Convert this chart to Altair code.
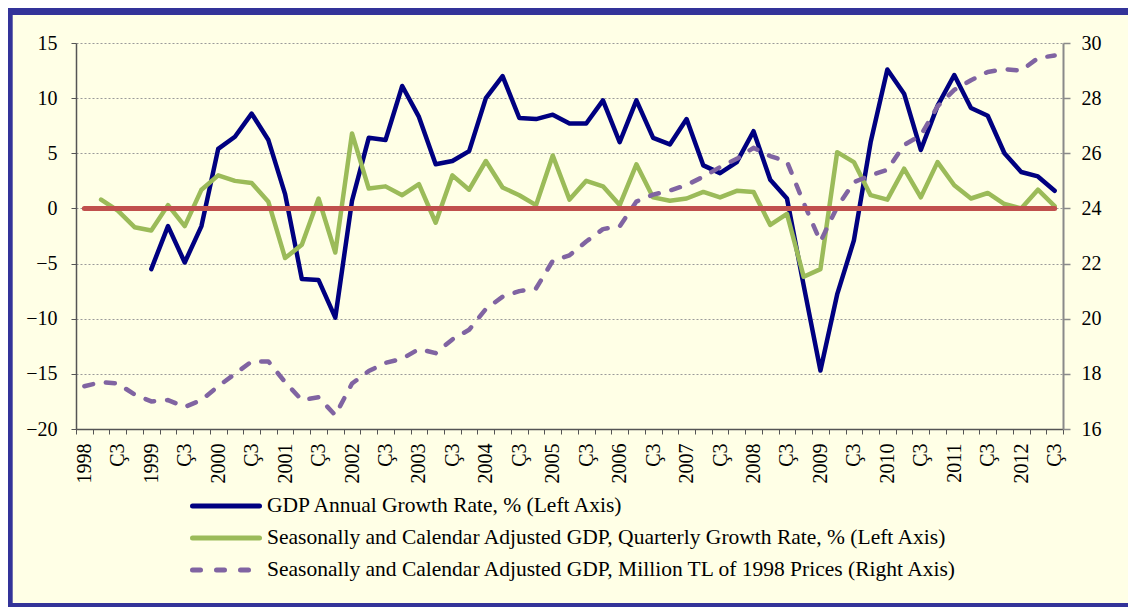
import altair as alt
import pandas as pd

# ---------------- data ----------------
years = list(range(1998, 2013))
quarters = [f"{y}-{q}" for y in years for q in (1, 2, 3, 4)][:59]  # 1998Q1 .. 2012Q3

gdp_annual_growth = [None, None, None, None,
    -5.5, -1.6, -4.9, -1.6, 5.4, 6.5, 8.6, 6.2, 1.3, -6.4, -6.5, -9.9,
    0.7, 6.4, 6.2, 11.1, 8.3, 4.0, 4.3, 5.2, 10.0, 12.0, 8.2, 8.1,
    8.5, 7.7, 7.7, 9.8, 6.0, 9.8, 6.4, 5.8, 8.1, 3.9, 3.2, 4.2,
    7.0, 2.6, 0.9, -7.0, -14.7, -7.8, -2.9, 6.0, 12.6, 10.4, 5.3, 9.3,
    12.1, 9.1, 8.4, 5.0, 3.3, 2.9, 1.6]

sa_quarterly_growth = [None,
    0.8, -0.2, -1.7, -2.0, 0.3, -1.6, 1.7, 3.0, 2.5, 2.3, 0.6, -4.5,
    -3.3, 0.9, -4.0, 6.8, 1.8, 2.0, 1.2, 2.2, -1.3, 3.0, 1.7, 4.3,
    1.9, 1.2, 0.3, 4.8, 0.8, 2.5, 2.0, 0.3, 4.0, 1.0, 0.7, 0.9,
    1.5, 1.0, 1.6, 1.5, -1.5, -0.5, -6.2, -5.5, 5.1, 4.2, 1.2, 0.8,
    3.6, 1.0, 4.2, 2.1, 0.9, 1.4, 0.4, 0.0, 1.7, 0.2]

sa_level = [
    17.55, 17.7, 17.65, 17.25, 17.0, 17.05, 16.8, 17.05, 17.55, 18.0,
    18.45, 18.45, 17.7, 17.05, 17.15, 16.5, 17.65, 18.1, 18.4, 18.55,
    18.9, 18.75, 19.25, 19.6, 20.35, 20.8, 21.0, 21.1, 22.1, 22.3,
    22.8, 23.25, 23.35, 24.25, 24.5, 24.65, 24.85, 25.15, 25.5, 25.8,
    26.2, 25.9, 25.7, 24.2, 22.8, 24.05, 24.95, 25.2, 25.4, 26.3,
    26.65, 27.7, 28.3, 28.65, 28.95, 29.05, 29.0, 29.45, 29.55]

zero_line = [0] * len(quarters)

series_names = [
    "GDP Annual Growth Rate, % (Left Axis)",
    "Seasonally and Calendar Adjusted GDP, Quarterly Growth Rate, % (Left Axis)",
    "Seasonally and Calendar Adjusted GDP, Million TL of 1998 Prices (Right Axis)",
]

left_ticks = [-20, -15, -10, -5, 0, 5, 10, 15]
right_ticks = [16, 18, 20, 22, 24, 26, 28, 30]

# ---------------- style ----------------
FONT = "Liberation Serif, Times New Roman, Tinos, DejaVu Serif, serif"
BG = "#FFFFE6"
FRAME = "#333399"
BLUE = "#000080"
GREEN = "#9BBB59"
PURPLE = "#8064A2"
RED = "#C0504D"

W, H = 987, 386
PAD = {"left": 68, "top": 35, "right": 65, "bottom": 178}
CW = PAD["left"] + W + PAD["right"]
CH = PAD["top"] + H + PAD["bottom"]


def series_df(values):
    return pd.DataFrame({"q": quarters, "v": values}).dropna()


label_expr = ("split(datum.value,'-')[1] == '1' ? split(datum.value,'-')[0] : "
              "(split(datum.value,'-')[1] == '3' ? 'Ç3' : '')")

x_axis = alt.Axis(title=None, labelAngle=-90, labelAlign="right", labelBaseline="middle",
                  labelExpr=label_expr, tickBand="extent", labelOverlap=False,
                  tickSize=5, labelPadding=9, labelFont=FONT, labelFontSize=20,
                  labelColor="black", domainColor="#555555", tickColor="#555555",
                  domainWidth=1.5, tickWidth=1, grid=False)
x_scale = alt.Scale(type="band", domain=quarters, paddingInner=0, paddingOuter=0)


def xenc():
    return alt.X("q:N", sort=quarters, scale=x_scale, bandPosition=0.5, axis=x_axis)


left_scale = alt.Scale(domain=[-20, 15], nice=False, zero=False)
right_scale = alt.Scale(domain=[16, 30], nice=False, zero=False)

left_axis = alt.Axis(title=None, values=left_ticks, grid=True, gridDash=[2, 2],
                     gridColor="#9A9A9A", gridWidth=1, tickSize=5, labelPadding=14,
                     labelFont=FONT, labelFontSize=20, labelColor="black",
                     domainColor="#555555", tickColor="#555555", domainWidth=1.5)
right_axis = alt.Axis(title=None, orient="right", values=right_ticks, grid=False,
                      tickSize=7, labelPadding=11, labelFont=FONT, labelFontSize=20,
                      labelColor="black", domainColor="#8A8A8A", tickColor="#8A8A8A",
                      domainWidth=2, tickWidth=1.5)

blue = alt.Chart(series_df(gdp_annual_growth)).mark_line(
    color=BLUE, strokeWidth=4.5, strokeJoin="round", strokeCap="round").encode(
    x=xenc(), y=alt.Y("v:Q", scale=left_scale, axis=left_axis))

green = alt.Chart(series_df(sa_quarterly_growth)).mark_line(
    color=GREEN, strokeWidth=4.5, strokeJoin="round", strokeCap="round").encode(
    x=xenc(), y=alt.Y("v:Q", scale=left_scale, axis=None))

purple = alt.Chart(series_df(sa_level)).mark_line(
    color=PURPLE, strokeWidth=4.5, strokeDash=[9, 13], strokeCap="round",
    strokeJoin="round").encode(
    x=xenc(), y=alt.Y("v:Q", scale=right_scale, axis=right_axis))

red = alt.Chart(series_df(zero_line)).mark_line(
    color=RED, strokeWidth=5, strokeCap="round").encode(
    x=xenc(), y=alt.Y("v:Q", scale=left_scale, axis=None))

one = pd.DataFrame({"k": [0]})


def strip(x, x2, y, y2):
    return alt.Chart(one).mark_rect(color=FRAME).encode(
        x=alt.value(x), x2=alt.value(x2), y=alt.value(y), y2=alt.value(y2))


left0 = -PAD["left"]
top0 = -PAD["top"]
frame = [
    strip(left0, left0 + 4.7, top0, top0 + CH),
    strip(left0, left0 + CW, top0, top0 + 7),
    strip(left0, left0 + CW, top0 + CH - 4, top0 + CH),
]

legend_styles = [
    dict(color=BLUE, strokeWidth=5, strokeCap="round"),
    dict(color=GREEN, strokeWidth=5, strokeCap="round"),
    dict(color=PURPLE, strokeWidth=5, strokeCap="round", strokeDash=[8, 16]),
]
legend_rows = [463, 495, 527]
legend = []
for name, style, ry in zip(series_names, legend_styles, legend_rows):
    legend.append(alt.Chart(one).mark_rule(**style).encode(
        x=alt.value(116.5), x2=alt.value(183.5), y=alt.value(ry)))
    legend.append(alt.Chart(pd.DataFrame({"t": [name]})).mark_text(
        align="left", baseline="middle", font=FONT, fontSize=21.5, color="black").encode(
        x=alt.value(191), y=alt.value(ry), text="t:N"))

chart = alt.layer(*frame, blue, green, purple, red, *legend).resolve_scale(
    y="independent"
).properties(
    width=W, height=H,
    autosize=alt.AutoSizeParams(type="none"),
    padding=PAD,
    background=BG,
).configure_view(stroke=None)

chart.save("out.html", embed_options={"renderer": "svg", "actions": False})
